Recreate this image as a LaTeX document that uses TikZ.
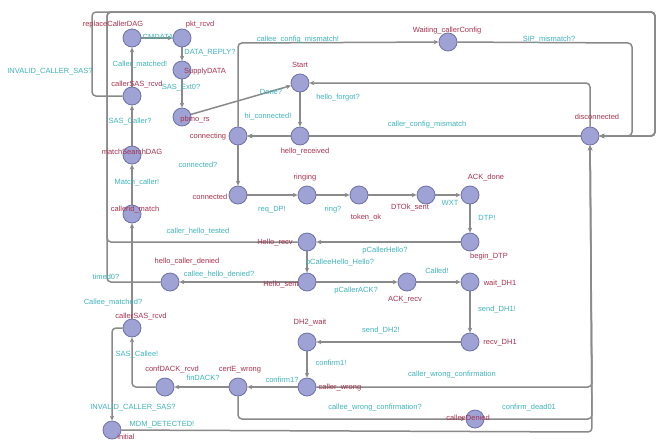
\documentclass[tikz,border=0pt]{standalone}
\usepackage{fontspec}
\setmainfont{Liberation Sans}
\usetikzlibrary{arrows.meta}
\definecolor{locfill}{HTML}{9EA2D4}
\definecolor{locdraw}{HTML}{6E72A8}
\definecolor{edgec}{HTML}{8A8A8A}
\definecolor{namec}{HTML}{A8324E}
\definecolor{guardc}{HTML}{3FB3BA}
\pgfdeclarelayer{bg}
\pgfdeclarelayer{edges}
\pgfsetlayers{bg,edges,main}
\begin{document}
\begin{tikzpicture}[x=1pt,y=-1pt,
 loc/.style={circle,fill=locfill,draw=locdraw,line width=0.8pt,minimum size=18pt,inner sep=0pt},
 tr/.style={draw=edgec,line width=1.5pt,-{Stealth[length=5pt,width=4.5pt]},rounded corners=4pt},
 ln/.style={text=namec,font=\fontsize{7.5}{9}\selectfont,inner sep=1pt},
 gd/.style={text=guardc,font=\fontsize{7.5}{9}\selectfont,inner sep=1pt}]
\begin{pgfonlayer}{bg}
\useasboundingbox[fill=white] (0,0) rectangle (660,442);
\end{pgfonlayer}
% locations
\node[loc] (n1) at (132,38) {};
\node[loc] (n2) at (182,38) {};
\node[loc] (n3) at (182,70) {};
\node[loc] (n4) at (132,96) {};
\node[loc] (n5) at (182,117) {};
\node[loc] (msd) at (132,155) {};
\node[loc] (cm) at (132,214) {};
\node[loc] (start) at (300,83) {};
\node[loc] (connecting) at (238,136) {};
\node[loc] (hrcv) at (300,136) {};
\node[loc] (wcc) at (448,42) {};
\node[loc] (disc) at (590,136) {};
\node[loc] (connected) at (238,195) {};
\node[loc] (ringing) at (307,195) {};
\node[loc] (tok) at (359,195) {};
\node[loc] (dts) at (426,195) {};
\node[loc] (ack) at (470,195) {};
\node[loc] (bdtp) at (470,242) {};
\node[loc] (hr) at (307,242) {};
\node[loc] (hs) at (307,282) {};
\node[loc] (hcd) at (170,282) {};
\node[loc] (ackr) at (407,282) {};
\node[loc] (wdh1) at (470,282) {};
\node[loc] (rdh1) at (470,342) {};
\node[loc] (dh2w) at (307,342) {};
\node[loc] (vw) at (307,387) {};
\node[loc] (cew) at (238,387) {};
\node[loc] (cdack) at (165,387) {};
\node[loc] (csas2) at (132,328) {};
\node[loc] (bot) at (475,419) {};
\node[loc] (init) at (112,430) {};
% transitions
\begin{pgfonlayer}{edges}
\draw[tr] (csas2) -- (cm);
\draw[tr] (cm) -- (msd);
\draw[tr] (msd) -- (n4);
\draw[tr] (n4) -- (n1);
\draw[tr] (n1) -- (n2);
\draw[tr] (n2) -- (n3);
\draw[tr] (n3) -- (n5);
\draw[tr] (n5) -- (start);
\draw[tr] (n4) -- (92,96) -- (92,12) -- (655,12) -- (655,136) -- (disc);
\draw[tr] (hr) -- (107,242) -- (107,12) -- (655,12) -- (655,136) -- (disc);
\draw[tr] (hcd) -- (107,282) -- (107,12) -- (655,12) -- (655,136) -- (disc);
\draw[tr] (connecting) -- (238,43) -- (wcc);
\draw[tr] (wcc) -- (632,43) -- (632,136) -- (disc);
\draw[tr] (disc) -- (590,83) -- (start);
\draw[tr] (disc) -- (connecting);
\draw[tr] (start) -- (hrcv);
\draw[tr] (hrcv) -- (connecting);
\draw[tr] (connecting) -- (connected);
\draw[tr] (connected) -- (ringing);
\draw[tr] (ringing) -- (tok);
\draw[tr] (tok) -- (dts);
\draw[tr] (dts) -- (ack);
\draw[tr] (ack) -- (bdtp);
\draw[tr] (bdtp) -- (hr);
\draw[tr] (hr) -- (hs);
\draw[tr] (hs) -- (hcd);
\draw[tr] (hs) -- (ackr);
\draw[tr] (ackr) -- (wdh1);
\draw[tr] (wdh1) -- (rdh1);
\draw[tr] (rdh1) -- (dh2w);
\draw[tr] (dh2w) -- (vw);
\draw[tr] (vw) -- (cew);
\draw[tr] (vw) -- (592,387) -- (disc);
\draw[tr] (cew) -- (cdack);
\draw[tr] (cdack) -- (132,387) -- (csas2);
\draw[tr] (cew) -- (238,419) -- (bot);
\draw[tr] (bot) -- (592,419) -- (disc);
\draw[tr] (csas2) -- (112,328) -- (init);
\draw[tr] (init) -- (592,432) -- (disc);
\end{pgfonlayer}
% location names
\node[ln] (l1) at (113,25) {replaceCallerDAG};
\node[ln] (l2) at (200,25) {pkt\_rcvd};
\node[ln] (l3) at (205,72) {SupplyDATA};
\node[ln] (l4) at (137,85) {callerSAS\_rcvd};
\node[ln] (l5) at (195,120) {pbmo\_rs};
\node[ln] (l6) at (132,152) {matchSearchDAG};
\node[ln] (l7) at (135,210) {callerid\_match};
\node[ln] (l8) at (300,65) {Start};
\node[ln] (l9) at (208,137) {connecting};
\node[ln] (l10) at (305,152) {hello\_received};
\node[ln] (l11) at (447,31) {Waiting\_callerConfig};
\node[ln] (l12) at (597,117) {disconnected};
\node[ln] (l13) at (210,197) {connected};
\node[ln] (l14) at (305,178) {ringing};
\node[ln] (l15) at (366,218) {token\_ok};
\node[ln] (l16) at (410,208) {DTOk\_sent};
\node[ln] (l17) at (486,178) {ACK\_done};
\node[ln] (l18) at (489,257) {begin\_DTP};
\node[ln] (l19) at (275,243) {Hello\_recv};
\node[ln] (l20) at (281,285) {Hello\_sent};
\node[ln] (l21) at (187,262) {hello\_caller\_denied};
\node[ln] (l22) at (405,300) {ACK\_recv};
\node[ln] (l23) at (500,284) {wait\_DH1};
\node[ln] (l24) at (500,343) {recv\_DH1};
\node[ln] (l25) at (310,323) {DH2\_wait};
\node[ln] (l26) at (340,388) {caller\_wrong};
\node[ln] (l27) at (240,370) {certE\_wrong};
\node[ln] (l28) at (172,370) {confDACK\_rcvd};
\node[ln] (l29) at (141,317) {callerSAS\_rcvd};
\node[ln] (l30) at (468,418) {calleeDenied};
\node[ln] (l31) at (126,437) {initial};
% guards / syncs
\node[gd] (g1) at (158,37) {CMDATA};
\node[gd] (g2) at (210,53) {DATA\_REPLY?};
\node[gd] (g3) at (140,65) {Caller\_matched!};
\node[gd] (g4) at (181,88) {SAS\_Ext0?};
\node[gd] (g5) at (130,122) {SAS\_Caller?};
\node[gd] (g6) at (137,183) {Match\_caller!};
\node[gd] (g7) at (50,72) {INVALID\_CALLER\_SAS?};
\node[gd] (g8) at (298,40) {callee\_config\_mismatch!};
\node[gd] (g9) at (549,40) {SIP\_mismatch?};
\node[gd] (g10) at (338,98) {hello\_forgot?};
\node[gd] (g11) at (271,92) {Done?};
\node[gd] (g12) at (268,117) {hi\_connected!};
\node[gd] (g13) at (427,125) {caller\_config\_mismatch};
\node[gd] (g14) at (198,165) {connected?};
\node[gd] (g15) at (272,210) {req\_DP!};
\node[gd] (g16) at (333,210) {ring?};
\node[gd] (g17) at (450,203) {WXT};
\node[gd] (g18) at (487,218) {DTP!};
\node[gd] (g19) at (198,232) {caller\_hello\_tested};
\node[gd] (g20) at (385,251) {pCallerHello?};
\node[gd] (g21) at (340,263) {pCalleeHello\_Hello?};
\node[gd] (g22) at (219,275) {callee\_hello\_denied?};
\node[gd] (g23) at (106,277) {timed0?};
\node[gd] (g24) at (356,291) {pCallerACK?};
\node[gd] (g25) at (437,271) {Called!};
\node[gd] (g26) at (497,310) {send\_DH1!};
\node[gd] (g27) at (381,331) {send\_DH2!};
\node[gd] (g28) at (331,363) {confirm1!};
\node[gd] (g29) at (282,380) {confirm1?};
\node[gd] (g30) at (203,378) {finDACK?};
\node[gd] (g31) at (452,375) {caller\_wrong\_confirmation};
\node[gd] (g32) at (375,408) {callee\_wrong\_confirmation?};
\node[gd] (g33) at (529,408) {confirm\_dead01};
\node[gd] (g34) at (113,303) {Callee\_matched?};
\node[gd] (g35) at (137,355) {SAS\_Callee!};
\node[gd] (g36) at (133,408) {INVALID\_CALLER\_SAS?};
\node[gd] (g37) at (162,425) {MDM\_DETECTED!};
\end{tikzpicture}
\end{document}
